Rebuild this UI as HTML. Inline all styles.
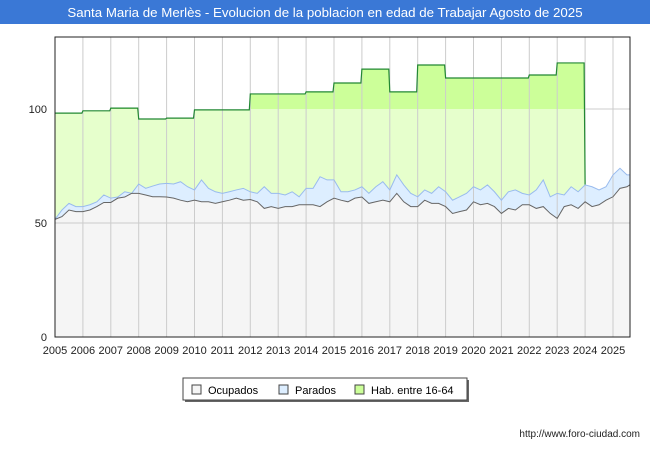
<!DOCTYPE html>
<html><head><meta charset="utf-8"><style>
body{margin:0;width:650px;height:450px;background:#fff;font-family:"Liberation Sans",sans-serif;overflow:hidden}
</style></head><body>
<svg id="c" width="650" height="450" xmlns="http://www.w3.org/2000/svg">
<defs>
<linearGradient id="hg" gradientUnits="userSpaceOnUse" x1="0" y1="37" x2="0" y2="337">
<stop offset="0.24" stop-color="#ccff99"/><stop offset="0.24" stop-color="#e6ffcc"/></linearGradient>
</defs>
<rect x="0" y="0" width="650" height="24" fill="#3a78d6"/>
<text x="325" y="17" font-size="13.3" fill="#fff" text-anchor="middle">Santa Maria de Merlès - Evolucion de la poblacion en edad de Trabajar Agosto de 2025</text>
<g id="plot"></g>
<rect x="55" y="37" width="575" height="300" fill="none" stroke="#222" stroke-width="1"/>
<g>
<rect x="185" y="380" width="284" height="22" fill="#666"/>
<rect x="183" y="378" width="284" height="22" fill="#fff" stroke="#444"/>
<rect x="192" y="385" width="9" height="9" fill="#f5f5f5" stroke="#444"/>
<text x="208" y="394" font-size="11">Ocupados</text>
<rect x="279" y="385" width="9" height="9" fill="#ddeeff" stroke="#444"/>
<text x="295" y="394" font-size="11">Parados</text>
<rect x="355" y="385" width="9" height="9" fill="#ccff99" stroke="#444"/>
<text x="371" y="394" font-size="11">Hab. entre 16-64</text>
</g>
<text x="640" y="437" font-size="10" text-anchor="end" fill="#222">http://www.foro-ciudad.com</text>
</svg>
<script>
const habYears=[2005,2006,2007,2008,2009,2010,2011,2012,2013,2014,2015,2016,2017,2018,2019,2020,2021,2022,2023];
const habValues=[98.2,99.2,100.4,95.6,96,99.6,99.6,106.6,106.6,107.5,111.4,117.5,107.5,119.3,113.6,113.6,113.6,114.9,120.2];
const parados=[51.6,55.7,58.6,57.2,57.2,58,59.3,62.3,60.9,61.4,63.7,63,67.1,65.2,66.2,67.1,67.4,67.1,68.1,65.9,64.5,68.9,65.2,63.7,63,63.7,64.5,65.2,63.7,63,65.9,63,63,62.3,63.7,61.5,65.2,65.2,70.3,68.9,68.9,63.7,63.7,64.5,65.9,63,65.9,68.1,64.5,71.1,66.7,63,61.5,64.5,63,65.9,63.7,60,61.5,63,65.9,64.5,66.7,63.7,60,63.7,64.5,63,62.3,64.5,68.9,61.5,63,62.3,65.9,63.7,66.7,65.9,64.5,65.9,71.1,74,71.1,71.1];
const ocupados=[51.6,52.8,55.7,55,55,55.7,57.2,59,59,60.9,61.4,63,63,62.3,61.5,61.5,61.4,60.9,60,59.3,60,59.3,59.3,58.6,59.3,60,60.9,60,60.3,59.3,56.4,57.2,56.4,57.2,57.2,58,58,58,57.2,59.3,60.9,60,59.3,60.9,61.4,58.6,59.3,60,59.3,63,59.3,57.2,57.2,60,58.6,58.6,57.2,54.2,55,55.7,59.3,58,58.6,57.2,54.2,56.4,55.7,58,58,56.4,57.2,54.2,52,57.2,58,56.4,59.3,57.2,58,60,61.5,65.2,65.9,66.7];
const yTicks=[0,50,100];
const xTicks=[2005,2006,2007,2008,2009,2010,2011,2012,2013,2014,2015,2016,2017,2018,2019,2020,2021,2022,2023,2024,2025];
const X=t=>55+(t-2005)*27.9;
const Y=v=>337-v*2.28;
const tAt=i=>i===parados.length-1?2025.6:2005+i*0.25;
const NS="http://www.w3.org/2000/svg";
const g=document.getElementById('plot');
function mk(tag,attrs){const e=document.createElementNS(NS,tag);for(const k in attrs)e.setAttribute(k,attrs[k]);g.appendChild(e);return e;}
let hp=[];
habYears.forEach((y,i)=>{const nx=i<habYears.length-1?habYears[i+1]:2024;hp.push([X(y),Y(habValues[i])],[X(nx)-1,Y(habValues[i])]);});
let habTopEnd=X(2024);
const p2024=parados[(2024-2005)*4];
let habArea=hp.map(p=>p.join(',')).join(' ')+` ${habTopEnd},${Y(p2024)} ${habTopEnd},${Y(0)} ${X(2005)},${Y(0)}`;
let e=mk('polygon',{points:habArea,fill:'url(#hg)'});


let pp=parados.map((v,i)=>X(tAt(i))+','+Y(v)).join(' ');
e=mk('polygon',{points:pp+` ${X(tAt(parados.length-1))},${Y(0)} ${X(2005)},${Y(0)}`,fill:'#ddeeff'});


let op=ocupados.map((v,i)=>X(tAt(i))+','+Y(v)).join(' ');
e=mk('polygon',{points:op+` ${X(tAt(ocupados.length-1))},${Y(0)} ${X(2005)},${Y(0)}`,fill:'#f5f5f5'});


xTicks.forEach(t=>{const l=mk('line',{x1:X(t),x2:X(t),y1:37,y2:337,stroke:'#ccc','stroke-width':1});


const tx=mk('text',{x:X(t),y:354,'font-size':11,'text-anchor':'middle',fill:'#222'});tx.textContent=t;

});
yTicks.forEach(v=>{if(v>0&&v<100){const l=mk('line',{x1:55,x2:630,y1:Y(v),y2:Y(v),stroke:'#ccc','stroke-width':1});

}
if(v===100){const l=mk('line',{x1:X(2024),x2:630,y1:Y(v),y2:Y(v),stroke:'#ccc','stroke-width':1});

}
const tx=mk('text',{x:47,y:Y(v)+4,'font-size':11,'text-anchor':'end',fill:'#222'});tx.textContent=v;

});
e=mk('polyline',{points:hp.map(p=>p.join(',')).join(' ')+` ${habTopEnd},${Y(p2024)}`,fill:'none',stroke:'#228833','stroke-width':1.2});


e=mk('polyline',{points:pp,fill:'none',stroke:'#99bbee','stroke-width':1});


e=mk('polyline',{points:op,fill:'none',stroke:'#666','stroke-width':1});


</script>
</body></html>
